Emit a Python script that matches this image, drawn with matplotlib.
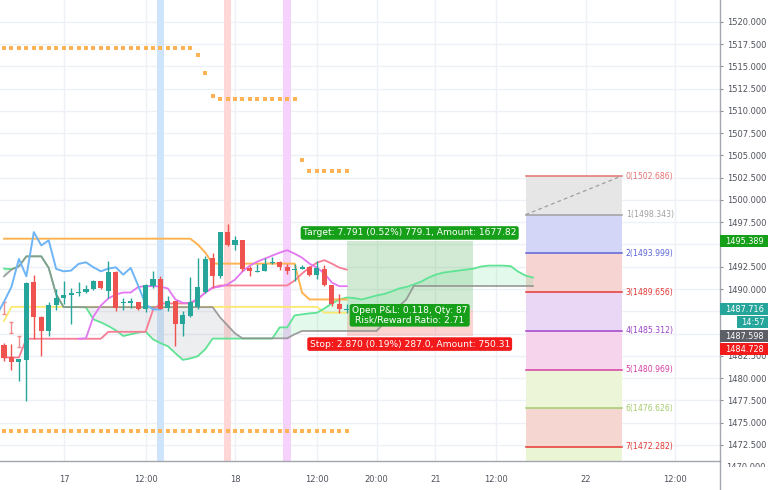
import matplotlib.pyplot as plt
import numpy as np
from matplotlib.patches import Rectangle
from matplotlib.transforms import Bbox, TransformedBbox, blended_transform_factory

# candles, one per bar
opens = [1483.73, 1482.35, 1481.76, 1482.00, 1490.76, 1486.90, 1485.29, 1488.20, 1488.94, 1489.28,
         1489.50, 1489.69, 1489.95, 1490.88, 1489.76, 1491.88, 1488.40, 1488.46, 1488.53, 1487.71,
         1490.32, 1491.18, 1487.90, 1488.64, 1486.04, 1486.97, 1488.02, 1489.65, 1493.49, 1491.51,
         1496.39, 1494.90, 1495.46, 1492.37, 1491.92, 1492.07, 1492.93, 1493.00, 1492.44, 1492.18,
         1492.29, 1492.44, 1491.62, 1492.29, 1490.40, 1488.27, 1487.62]
highs = [1483.90, 1483.80, 1482.20, 1490.76, 1491.62, 1487.00, 1488.50, 1489.95, 1490.88, 1490.14,
         1490.76, 1490.43, 1491.07, 1490.95, 1493.11, 1492.00, 1489.00, 1488.94, 1488.60, 1490.51,
         1492.07, 1491.43, 1489.20, 1488.70, 1487.52, 1491.32, 1493.49, 1493.67, 1494.05, 1496.45,
         1497.32, 1495.90, 1495.50, 1492.55, 1492.85, 1493.49, 1493.60, 1493.11, 1492.85, 1492.85,
         1492.66, 1492.55, 1493.11, 1492.74, 1490.45, 1489.39, 1488.30]
lows = [1481.94, 1480.93, 1479.67, 1477.40, 1484.36, 1482.50, 1484.73, 1487.60, 1488.27, 1486.12,
        1489.20, 1489.60, 1489.90, 1490.06, 1489.02, 1487.52, 1487.60, 1487.83, 1487.60, 1487.38,
        1490.17, 1487.71, 1487.52, 1483.61, 1484.73, 1486.90, 1487.71, 1489.58, 1490.14, 1491.26,
        1494.85, 1494.42, 1491.99, 1491.43, 1491.88, 1492.00, 1492.85, 1492.18, 1491.74, 1490.88,
        1492.20, 1491.50, 1491.18, 1490.30, 1488.08, 1487.34, 1487.35]
closes = [1482.21, 1481.79, 1482.13, 1490.70, 1486.85, 1485.29, 1488.20, 1488.94, 1489.31, 1489.58,
          1489.69, 1490.03, 1490.88, 1490.14, 1491.88, 1487.90, 1488.50, 1488.64, 1487.71, 1490.40,
          1491.18, 1487.79, 1488.64, 1486.12, 1487.04, 1488.57, 1490.25, 1493.38, 1491.43, 1496.39,
          1494.90, 1495.46, 1492.26, 1491.99, 1492.07, 1492.82, 1493.00, 1492.44, 1491.99, 1492.29,
          1492.44, 1491.62, 1492.37, 1490.40, 1488.27, 1487.71, 1487.716]

# ichimoku style lines
conversion = [1484.42, 1484.47, 1486.93, 1488.16, 1488.94, 1489.39, 1489.61, 1489.61, 1490.23, 1490.32,
              1490.32, 1490.28, 1490.06, 1488.83, 1488.45, 1488.45, 1488.90, 1489.58, 1490.14, 1490.28,
              1490.51, 1491.06, 1491.96, 1492.63, 1493.08, 1493.41, 1493.75, 1494.08, 1494.36, 1493.97,
              1493.52, 1492.85, 1492.41, 1491.74, 1490.73, 1490.32, 1490.32]
conversion_start = 10
base = [1482.32, 1482.32, 1482.32, 1484.42, 1484.42, 1484.42, 1484.42, 1484.42, 1484.42, 1484.42,
        1484.42, 1484.42, 1484.42, 1484.42, 1485.20, 1485.20, 1485.20, 1485.20, 1485.20, 1485.20,
        1487.66, 1488.38, 1488.38, 1488.38, 1488.38, 1488.38, 1488.83, 1489.61, 1490.17, 1490.40,
        1490.40, 1490.40, 1490.40, 1490.40, 1490.40, 1490.40, 1490.40, 1490.40, 1490.40, 1490.95,
        1491.74, 1492.41, 1492.96, 1493.24, 1492.85, 1492.41, 1492.18]
orange_line = [1495.65, 1495.65, 1495.65, 1495.65, 1495.65, 1495.65, 1495.65, 1495.65, 1495.65, 1495.65,
               1495.65, 1495.65, 1495.65, 1495.65, 1495.65, 1495.65, 1495.65, 1495.65, 1495.65, 1495.65,
               1495.65, 1495.65, 1495.65, 1495.65, 1495.65, 1495.65, 1495.00, 1494.10, 1492.85, 1492.85,
               1492.85, 1492.85, 1492.85, 1492.85, 1492.85, 1492.85, 1492.85, 1492.85, 1492.85, 1492.85,
               1489.60, 1488.83, 1488.83, 1488.83, 1488.83, 1488.83, 1488.83]
yellow_line = [1486.41, 1488.00, 1488.00, 1488.00, 1488.00, 1488.00, 1488.00, 1488.00, 1488.00, 1488.00,
               1488.00, 1488.00, 1488.00, 1488.00, 1488.00, 1488.00, 1488.00, 1488.00, 1488.00, 1488.00,
               1488.00, 1488.00, 1488.00, 1488.00, 1488.00, 1488.00, 1488.00, 1488.00, 1488.00, 1488.00,
               1488.00, 1488.00, 1488.00, 1488.00, 1488.00, 1488.00, 1488.00, 1488.00, 1488.00, 1488.00,
               1488.00, 1488.00, 1488.00, 1487.35, 1487.35, 1487.35, 1487.35]
span_a = [1492.29, 1492.24, 1492.55, 1493.67, 1493.67, 1493.67, 1492.37, 1489.39, 1487.97, 1487.97,
          1487.97, 1487.94, 1486.60, 1486.26, 1485.85, 1485.37, 1484.73, 1484.92, 1485.11, 1485.22,
          1484.36, 1483.92, 1483.58, 1482.80, 1482.05, 1482.21, 1482.46, 1483.24, 1484.44, 1484.44,
          1484.44, 1484.44, 1484.44, 1484.44, 1484.44, 1484.44, 1484.44, 1485.70, 1485.70, 1487.04,
          1487.16, 1487.27, 1487.34, 1487.82, 1488.38, 1488.83, 1489.05, 1488.99, 1488.83, 1489.05,
          1489.28, 1489.44, 1489.72, 1490.06, 1490.23, 1490.51, 1490.84, 1491.29, 1491.63, 1491.85,
          1491.96, 1492.07, 1492.18, 1492.29, 1492.52, 1492.63, 1492.63, 1492.63, 1492.57, 1491.96,
          1491.51, 1491.29]
span_b = [1491.43, 1492.18, 1492.55, 1493.67, 1493.67, 1493.67, 1492.37, 1489.39, 1487.97, 1487.97,
          1487.97, 1487.97, 1487.97, 1487.97, 1487.97, 1487.97, 1487.97, 1487.97, 1487.97, 1487.97,
          1487.97, 1487.97, 1487.97, 1487.97, 1487.97, 1487.97, 1487.97, 1487.97, 1487.97, 1486.82,
          1485.92, 1485.03, 1484.47, 1484.47, 1484.47, 1484.47, 1484.47, 1484.47, 1484.47, 1484.92,
          1485.29, 1485.29, 1485.29, 1485.29, 1485.29, 1485.29, 1485.29, 1485.29, 1485.29, 1485.29,
          1485.29, 1486.15, 1487.16, 1488.05, 1488.83, 1490.34, 1490.34, 1490.34, 1490.34, 1490.34,
          1490.34, 1490.34, 1490.34, 1490.34, 1490.34, 1490.34, 1490.34, 1490.34, 1490.34, 1490.34,
          1490.34, 1490.34]
lag_shift = 25

# dotted levels
top_dots = [1517.09, 1517.09, 1517.09, 1517.09, 1517.09, 1517.09, 1517.09, 1517.09, 1517.09, 1517.09,
            1517.09, 1517.09, 1517.09, 1517.09, 1517.09, 1517.09, 1517.09, 1517.09, 1517.09, 1517.09,
            1517.09, 1517.09, 1517.09, 1517.09, 1517.09, 1517.09, 1516.28, 1514.23, 1511.70, 1511.37,
            1511.37, 1511.37, 1511.37, 1511.37, 1511.37, 1511.37, 1511.37, 1511.37, 1511.37, 1511.37,
            1504.51, 1503.28, 1503.28, 1503.28, 1503.28, 1503.28, 1503.28]
bottom_dots = [1474.08, 1474.08, 1474.08, 1474.08, 1474.08, 1474.08, 1474.08, 1474.08, 1474.08, 1474.08,
               1474.08, 1474.08, 1474.08, 1474.08, 1474.08, 1474.08, 1474.08, 1474.08, 1474.08, 1474.08,
               1474.08, 1474.08, 1474.08, 1474.08, 1474.08, 1474.08, 1474.08, 1474.08, 1474.08, 1474.08,
               1474.08, 1474.08, 1474.08, 1474.08, 1474.08, 1474.08, 1474.08, 1474.08, 1474.08, 1474.08,
               1474.08, 1474.08, 1474.08, 1474.08, 1474.08, 1474.08, 1474.08]

# small red range marks at the left edge
mark_hi = [1488.49, 1486.26, 1484.70]
mark_lo = [1487.16, 1485.03, 1483.47]

# highlighted bars
hl_bars = [21, 30, 38]
hl_colors = ['#cde4fa', '#ffd7d7', '#f5d2fb']

# long position
entry = 1487.598
target = 1495.389
stop = 1484.728
last_price = 1487.716
countdown = '14:57'
pos_start, pos_end = 46, 62.9
target_text = 'Target: 7.791 (0.52%) 779.1, Amount: 1677.82'
stop_text = 'Stop: 2.870 (0.19%) 287.0, Amount: 750.31'
pnl_text = 'Open P&L: 0.118, Qty: 87\nRisk/Reward Ratio: 2.71'

# fib levels
fib_levels = [1502.686, 1498.343, 1493.999, 1489.656, 1485.312, 1480.969, 1476.626, 1472.282]
fib_line_colors = ['#e57373', '#a0a0a0', '#5c64d8', '#e53935', '#9c42c8', '#d63fa5', '#a5cd6d', '#e53935']
fib_fill_colors = ['#e6e6e6', '#d4d6f7', '#f5d4d1', '#ead6f5', '#f6d4ec', '#edf5d9', '#f6d6d1', '#eaf5d6']
fib_start, fib_end = 70, 82.9

# time axis
xtick_pos = [8.1, 19.0, 31.05, 42.05, 50.0, 57.9, 66.0, 78.1, 90.1]
xtick_labels = ['17', '12:00', '18', '12:00', '20:00', '21', '12:00', '22', '12:00']
y_bottom, y_top = 1470.70, 1522.44
yticks = np.arange(1472.5, 1521, 2.5)

up_col = '#26a69a'
down_col = '#ef5350'
txt_col = '#50535e'
green_lbl = '#169f19'
red_lbl = '#f21a1a'

fig = plt.figure(figsize=(7.68, 4.9), dpi=100)
ax = fig.add_axes([0, 29 / 490, 720 / 768, 461 / 490])
ax.set_xlim(-0.54, 96.1)
ax.set_ylim(y_bottom, y_top)
per_px = (y_top - y_bottom) / 461

# grid
ax.set_axisbelow(True)
ax.grid(True, color='#edf0f5', lw=1)

# highlight bands
for b, c in zip(hl_bars, hl_colors):
    ax.axvspan(b - 0.53, b + 0.53, color=c, lw=0, zorder=0.6)

# position boxes
ax.add_patch(Rectangle((pos_start, entry), pos_end - pos_start, target - entry,
                       facecolor='#4caf50', alpha=0.25, lw=0, zorder=0.7))
ax.add_patch(Rectangle((pos_start, stop), pos_end - pos_start, entry - stop,
                       facecolor='#f44336', alpha=0.22, lw=0, zorder=0.7))

# fib retracement
for i in range(len(fib_levels)):
    top = fib_levels[i]
    bot = fib_levels[i + 1] if i + 1 < len(fib_levels) else y_bottom
    ax.add_patch(Rectangle((fib_start, bot), fib_end - fib_start, top - bot,
                           facecolor=fib_fill_colors[i], lw=0, zorder=0.7))
for i, lvl in enumerate(fib_levels):
    ax.plot([fib_start, fib_end], [lvl, lvl], color=fib_line_colors[i], lw=1.1, zorder=1)
    ax.text(fib_end + 0.55, lvl, f'{i}({lvl:.3f})', color=fib_line_colors[i],
            fontsize=5.6, va='center', ha='left', zorder=5)
ax.plot([fib_start, fib_end], [fib_levels[1], fib_levels[0]], color='#9e9e9e',
        lw=0.9, ls=(0, (3, 2.5)), zorder=1)

# cloud
xs = np.arange(len(span_a))
sa = np.array(span_a)
sb = np.array(span_b)
ax.fill_between(xs, sa, sb, where=sa >= sb, interpolate=True, color='#5ee08c', alpha=0.17, lw=0, zorder=0.8)
ax.fill_between(xs, sa, sb, where=sa < sb, interpolate=True, color='#9a9ca6', alpha=0.17, lw=0, zorder=0.8)
ax.plot(xs, span_a, color='#5fe394', lw=1.3, zorder=1.5)
ax.plot(xs, span_b, color='#8f8f8f', lw=1.3, alpha=0.85, zorder=1.6)

# other lines
bars = np.arange(len(closes))
ax.plot(bars, yellow_line, color='#fbe870', lw=1.3, zorder=1.4)
ax.plot(bars, orange_line, color='#ffb350', lw=1.4, zorder=1.7)
ax.plot(bars, base, color='#f77d94', lw=1.3, zorder=1.7)
ax.plot(np.arange(conversion_start, conversion_start + len(conversion)), conversion,
        color='#e377f2', lw=1.3, zorder=1.8)
ax.plot(bars - lag_shift, closes, color='#6db5f6', lw=1.4, zorder=1.8)
ax.plot(bars, top_dots, ls='none', marker='s', ms=2.3, mew=0, color='#ffb357', zorder=1.5)
ax.plot(bars, bottom_dots, ls='none', marker='s', ms=2.3, mew=0, color='#ffb357', zorder=1.5)
ax.errorbar(bars[:len(mark_hi)], (np.array(mark_hi) + np.array(mark_lo)) / 2,
            yerr=(np.array(mark_hi) - np.array(mark_lo)) / 2, fmt='none',
            ecolor='#f08c8c', elinewidth=1, capsize=1.6, zorder=1.5)

# candles
o = np.array(opens)
c = np.array(closes)
cols = [up_col if cc >= oo else down_col for oo, cc in zip(o, c)]
ax.vlines(bars, lows, highs, colors=cols, lw=1, zorder=3)
body = np.maximum(np.abs(c - o), 0.12)
ax.bar(bars, body, bottom=np.minimum(o, c), width=0.68, color=cols, lw=0, zorder=3.1)

# position labels
mid = (pos_start + pos_end) / 2
ax.annotate(target_text, xy=(mid, target), xytext=(0, 5.8), textcoords='offset points',
            ha='center', va='center', fontsize=6.6, color='white', zorder=6,
            bbox=dict(boxstyle='round,pad=0.25', fc=green_lbl, ec='none'))
ax.annotate(stop_text, xy=(mid, stop), xytext=(0, -5.8), textcoords='offset points',
            ha='center', va='center', fontsize=6.6, color='white', zorder=6,
            bbox=dict(boxstyle='round,pad=0.25', fc=red_lbl, ec='none'))
ax.annotate(pnl_text, xy=(mid, entry), xytext=(0, -3.5), textcoords='offset points',
            ha='center', va='center', fontsize=6.6, color='white', zorder=6, linespacing=1.0,
            bbox=dict(boxstyle='round,pad=0.25', fc=green_lbl, ec='none'))

# price tags on the right scale
trans = blended_transform_factory(ax.transAxes, ax.transData)
right = 768 / 720
tag_prices = [target, last_price, last_price - 13 * per_px,
              last_price - 27 * per_px, last_price - 39.7 * per_px]

# axes styling; tick labels hidden under a tag are left blank
ax.set_xticks(xtick_pos)
ax.set_xticklabels(xtick_labels)
ax.yaxis.tick_right()
ax.set_yticks(yticks)
ax.set_yticklabels(['' if min(abs(v - t) for t in tag_prices) < 5 * per_px else f'{v:.3f}'
                    for v in yticks])
ax.tick_params(axis='x', length=0, pad=10, labelsize=6, labelcolor=txt_col)
ax.tick_params(axis='y', length=2.5, width=0.8, color='#8a8d96', pad=2.4, labelsize=6, labelcolor=txt_col)
for pos in ['top', 'left']:
    ax.spines[pos].set_visible(False)
for pos in ['right', 'bottom']:
    ax.spines[pos].set_color('#a3a6ae')
    ax.spines[pos].set_linewidth(1)
fig.add_artist(plt.Line2D([720 / 768, 720 / 768], [0, 29 / 490], color='#a3a6ae', lw=1,
                          transform=fig.transFigure))

# partly hidden bottom price label
low_lbl = fig.text(1 + 6.5 / 720, 1470.0, '1470.000', transform=trans, fontsize=6,
                   color=txt_col, va='center', ha='left')
low_lbl.set_clip_box(TransformedBbox(Bbox([[0.9, 23 / 490], [1, 1]]), fig.transFigure))
low_lbl.set_clip_on(True)


def price_tag(y, text, color, x0=1.0, center=False):
    ax.add_patch(Rectangle((x0, y - 6 * per_px), right - x0, 12 * per_px, transform=trans,
                           facecolor=color, edgecolor='none', clip_on=False, zorder=10))
    if center:
        ax.text((x0 + right) / 2, y, text, transform=trans, color='white', fontsize=5.9,
                ha='center', va='center', clip_on=False, zorder=11)
    else:
        ax.text(1 + 5.5 / 720, y, text, transform=trans, color='white', fontsize=5.9,
                ha='left', va='center', clip_on=False, zorder=11)


price_tag(tag_prices[0], f'{target:.3f}', green_lbl)
price_tag(tag_prices[1], f'{last_price:.3f}', up_col)
price_tag(tag_prices[2], countdown, up_col, x0=1 + 17 / 720, center=True)
price_tag(tag_prices[3], f'{entry:.3f}', '#5d5f66')
price_tag(tag_prices[4], f'{stop:.3f}', red_lbl)

fig.savefig('out.png', dpi=100)
